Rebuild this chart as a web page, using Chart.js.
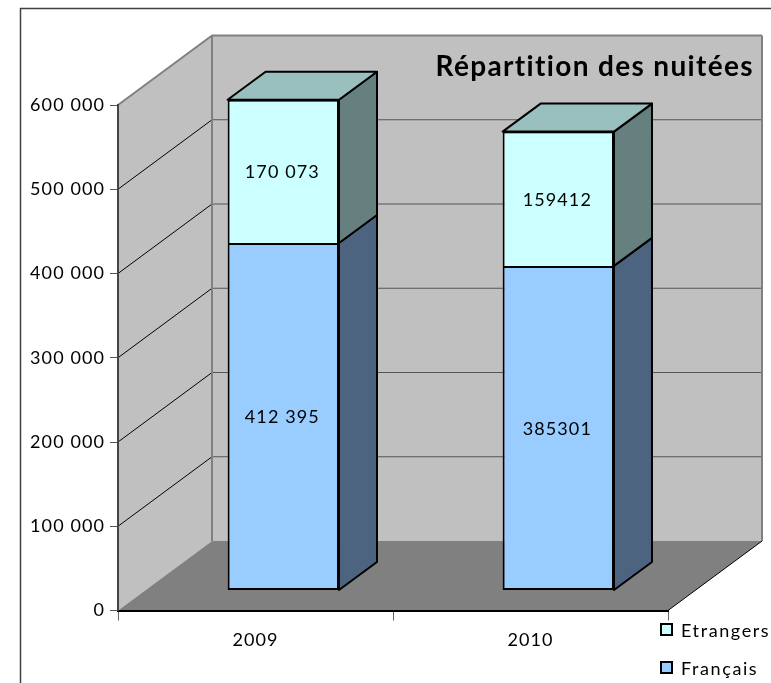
<!DOCTYPE html>
<html><head><meta charset="utf-8">
<style>html,body{margin:0;padding:0;background:#fff;overflow:hidden}#w{position:relative;width:771px;height:683px}</style>
<script src="https://cdn.jsdelivr.net/npm/chart.js@4"></script>
</head><body><div id="w"><canvas id="c" width="771" height="683"></canvas></div>
<script>
const categories = ['2009', '2010'];
const francais = [412395, 385301];
const etrangers = [170073, 159412];
const francaisLabels = ['412 395', '385301'];
const etrangersLabels = ['170 073', '159412'];
const titleText = 'Répartition des nuitées';
const FONT = 'Lato';
const wallDepth = {x: 94, y: -69.5};
const barShift = {x: 27.8, y: -20};
const barDepth = {x: 38, y: -28};

function poly(ctx, pts, fill, stroke, lw) {
  ctx.beginPath();
  pts.forEach((p, i) => i ? ctx.lineTo(p[0], p[1]) : ctx.moveTo(p[0], p[1]));
  ctx.closePath();
  if (fill) { ctx.fillStyle = fill; ctx.fill(); }
  if (stroke) { ctx.strokeStyle = stroke; ctx.lineWidth = lw || 1; ctx.lineJoin = 'round'; ctx.stroke(); }
}
function line(ctx, x1, y1, x2, y2, c, lw) {
  ctx.beginPath(); ctx.moveTo(x1, y1); ctx.lineTo(x2, y2);
  ctx.strokeStyle = c; ctx.lineWidth = lw; ctx.stroke();
}
const scene = {
  id: 'scene',
  beforeDraw(chart) {
    const {ctx, chartArea: a, scales: {y}} = chart;
    const d = wallDepth;
    ctx.save();
    ctx.letterSpacing = '0px';
    // outer frame
    ctx.beginPath(); ctx.moveTo(20.5, 683); ctx.lineTo(20.5, 8.5); ctx.lineTo(771, 8.5);
    ctx.strokeStyle = '#404040'; ctx.lineWidth = 1.5; ctx.stroke();
    // side wall and back wall
    poly(ctx, [[a.left, a.top], [a.left + d.x, a.top + d.y], [a.left + d.x, a.bottom + d.y], [a.left, a.bottom]], '#c0c0c0');
    poly(ctx, [[a.left + d.x, a.top + d.y], [a.right + d.x, a.top + d.y], [a.right + d.x, a.bottom + d.y], [a.left + d.x, a.bottom + d.y]], '#c0c0c0');
    // grid
    y.ticks.forEach(t => {
      if (t.value === 0 || t.value === y.max) return;
      const py = y.getPixelForValue(t.value);
      line(ctx, a.left, py, a.left + d.x, py + d.y, '#000', 1);
      line(ctx, a.left + d.x, py + d.y, a.right + d.x, py + d.y, '#555', 1);
    });
    // floor
    poly(ctx, [[a.left, a.bottom], [a.left + d.x, a.bottom + d.y], [a.right + d.x, a.bottom + d.y], [a.right, a.bottom]], '#808080');
    line(ctx, a.right, a.bottom, a.right + d.x, a.bottom + d.y, '#000', 1);
    // wall edges
    line(ctx, a.left, a.top, a.left + d.x, a.top + d.y, '#808080', 2);
    line(ctx, a.left + d.x, a.top + d.y, a.right + d.x, a.top + d.y, '#808080', 2);
    line(ctx, a.left + d.x, a.top + d.y, a.left + d.x, a.bottom + d.y, '#808080', 2);
    line(ctx, a.right + d.x, a.top + d.y, a.right + d.x, a.bottom + d.y, '#808080', 2);
    ctx.restore();
    ctx.letterSpacing = '1.1px';
  },
  beforeDatasetsDraw(chart) {
    const {ctx} = chart;
    ctx.save();
    const sideColors = ['#4d6480', '#668080'];
    const topColor = '#99bfbf';
    chart.data.datasets.forEach((ds, i) => {
      chart.getDatasetMeta(i).data.forEach(el => {
        const x2 = el.x + el.width / 2 + barShift.x;
        const x1 = el.x - el.width / 2 + barShift.x;
        const t = el.y + barShift.y, b = el.base + barShift.y;
        poly(ctx, [[x2, t], [x2 + barDepth.x, t + barDepth.y], [x2 + barDepth.x, b + barDepth.y], [x2, b]], sideColors[i], '#000', 2);
        if (i === chart.data.datasets.length - 1) {
          poly(ctx, [[x1, t], [x1 + barDepth.x, t + barDepth.y], [x2 + barDepth.x, t + barDepth.y], [x2, t]], topColor, '#000', 2);
        }
      });
    });
    ctx.restore();
  },
  beforeDatasetDraw(chart) {
    chart.ctx.save();
    chart.ctx.translate(barShift.x, barShift.y);
  },
  afterDatasetDraw(chart) {
    chart.ctx.restore();
  },
  afterDatasetsDraw(chart) {
    const {ctx} = chart;
    ctx.save();
    // value labels
    ctx.font = '18px ' + FONT;
    ctx.letterSpacing = '1.1px';
    ctx.fillStyle = '#000';
    ctx.textAlign = 'center';
    ctx.textBaseline = 'middle';
    const texts = [francaisLabels, etrangersLabels];
    chart.data.datasets.forEach((ds, i) => {
      chart.getDatasetMeta(i).data.forEach((el, j) => {
        ctx.fillText(texts[i][j], el.x + barShift.x - 1, (el.y + el.base) / 2 + barShift.y + 1);
      });
    });
    // title
    ctx.font = 'bold 28px ' + FONT;
    ctx.letterSpacing = '1.35px';
    ctx.textAlign = 'right';
    ctx.fillText(titleText, 754, 67);
    // legend
    const rows = [[1, 630], [0, 668]];
    ctx.font = '18px ' + FONT;
    ctx.letterSpacing = '1.6px';
    ctx.textAlign = 'left';
    rows.forEach(([i, yy]) => {
      const ds = chart.data.datasets[i];
      ctx.fillStyle = ds.backgroundColor;
      ctx.strokeStyle = '#000'; ctx.lineWidth = 2;
      ctx.fillRect(661, yy - 6, 11, 11); ctx.strokeRect(661, yy - 6, 11, 11);
      ctx.fillStyle = '#000';
      ctx.fillText(ds.label, 681, yy + 1);
    });
    ctx.restore();
  }
};

new Chart(document.getElementById('c'), {
  type: 'bar',
  data: {
    labels: categories,
    datasets: [
      {label: 'Français', data: francais, backgroundColor: '#99ccff', borderColor: '#000', borderWidth: {top: 2, left: 2, right: 2, bottom: 2}, borderSkipped: false, clip: false},
      {label: 'Etrangers', data: etrangers, backgroundColor: '#ccffff', borderColor: '#000', borderWidth: {top: 2, left: 2, right: 2, bottom: 0}, borderSkipped: false, clip: false}
    ]
  },
  options: {
    responsive: false,
    animation: false,
    events: [],
    layout: {padding: {left: 0, top: 105, right: 103, bottom: 0}},
    datasets: {bar: {barPercentage: 0.405, categoryPercentage: 1}},
    plugins: {legend: {display: false}, title: {display: false}, tooltip: {enabled: false}},
    scales: {
      x: {
        stacked: true,
        afterFit(s) { s.height = 72.5; },
        grid: {drawOnChartArea: false, tickLength: 10, tickColor: '#666', tickWidth: 1},
        border: {color: '#000', width: 2},
        ticks: {color: '#000', font: {family: FONT, size: 18}, padding: 9, maxRotation: 0}
      },
      y: {
        stacked: true,
        min: 0, max: 600000,
        afterFit(s) { s.width = 118; },
        grid: {drawOnChartArea: false, tickLength: 8, tickColor: '#555', tickWidth: 1},
        border: {color: '#444', width: 2},
        ticks: {
          color: '#000', stepSize: 100000, padding: 5,
          font: {family: FONT, size: 18},
          callback: v => String(v).replace(/\B(?=(\d{3})+$)/g, ' ')
        }
      }
    }
  },
  plugins: [scene]
});
</script></body></html>
